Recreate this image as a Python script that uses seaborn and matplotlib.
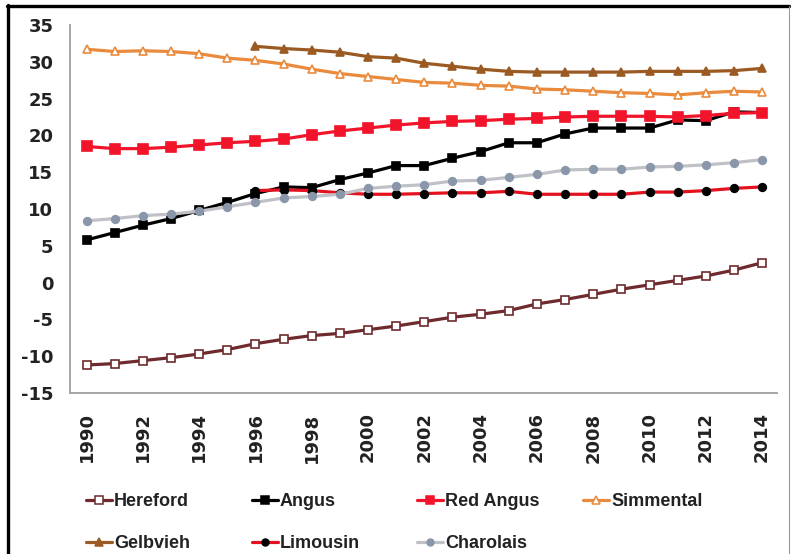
import matplotlib
matplotlib.use("Agg")
import matplotlib.pyplot as plt
from matplotlib.lines import Line2D
from matplotlib.ticker import FixedLocator, NullFormatter
import seaborn as sns
import numpy as np

# ---------------- data ----------------
years = list(range(1990, 2015))
years_late = list(range(1996, 2015))

hereford = [-11.2, -11.0, -10.6, -10.2, -9.7, -9.1, -8.3, -7.7, -7.2, -6.9, -6.4, -5.9,
            -5.3, -4.7, -4.3, -3.8, -2.9, -2.3, -1.6, -0.9, -0.3, 0.3, 0.9, 1.7, 2.7]
angus = [5.8, 6.8, 7.8, 8.7, 9.8, 10.9, 12.1, 13.0, 12.9, 14.0, 14.9, 15.9,
         15.9, 16.9, 17.8, 19.0, 19.0, 20.2, 21.0, 21.0, 21.0, 22.1, 22.0, 23.2, 23.1]
red_angus = [18.5, 18.2, 18.2, 18.4, 18.7, 19.0, 19.2, 19.5, 20.1, 20.6, 21.0, 21.4,
             21.7, 21.9, 22.0, 22.2, 22.3, 22.5, 22.6, 22.6, 22.6, 22.5, 22.7, 23.0, 23.1]
simmental = [31.7, 31.4, 31.5, 31.4, 31.1, 30.5, 30.2, 29.7, 29.0, 28.4, 28.0, 27.6,
             27.2, 27.1, 26.8, 26.7, 26.3, 26.2, 26.0, 25.8, 25.7, 25.5, 25.8, 26.0, 25.9]
gelbvieh = [32.1, 31.8, 31.6, 31.3, 30.7, 30.5, 29.8, 29.4, 29.0, 28.7, 28.6, 28.6,
            28.6, 28.6, 28.7, 28.7, 28.7, 28.8, 29.1]
limousin = [12.5, 12.6, 12.5, 12.2, 12.0, 12.0, 12.1, 12.2, 12.2, 12.4, 12.0, 12.0,
            12.0, 12.0, 12.3, 12.3, 12.5, 12.8, 13.0]
charolais = [8.4, 8.7, 9.1, 9.3, 9.7, 10.3, 10.9, 11.5, 11.7, 12.0, 12.8, 13.1,
             13.3, 13.8, 13.9, 14.3, 14.7, 15.3, 15.4, 15.4, 15.7, 15.8, 16.0, 16.3, 16.7]

y_ticks = [-15, -10, -5, 0, 5, 10, 15, 20, 25, 30, 35]
x_label_years = list(range(1990, 2015, 2))

series = [
    # label, x, y, line colour, marker, marker face, marker edge, marker size
    ("Hereford", years, hereford, "#6E2A2C", "s", "white", "#6E2A2C", 6.0),
    ("Angus", years, angus, "#000000", "s", "#000000", "#000000", 6.0),
    ("Red Angus", years, red_angus, "#F2142A", "s", "#F2142A", "#F2142A", 6.5),
    ("Simmental", years, simmental, "#EA8A3C", "^", "white", "#EA8A3C", 6.0),
    ("Gelbvieh", years_late, gelbvieh, "#9A5A22", "^", "#9A5A22", "#9A5A22", 6.0),
    ("Limousin", years_late, limousin, "#E3121E", "o", "#000000", "#000000", 5.5),
    ("Charolais", years, charolais, "#BFC1C7", "o", "#8A96AA", "#8A96AA", 5.5),
]

# ---------------- figure ----------------
sns.set_style("white")
plt.rcParams["font.family"] = ["DejaVu Sans"]

W, H = 791, 554
fig = plt.figure(figsize=(W / 100, H / 100), dpi=100)
ax = fig.add_axes([70 / W, 1 - 393 / H, (777 - 70) / W, (393 - 25) / H])

for lab, xs, ys, col, mk, mfc, mec, ms in series:
    sns.lineplot(x=xs, y=ys, ax=ax, color=col, linewidth=2.3, marker=mk,
                 markersize=ms, markerfacecolor=mfc, markeredgecolor=mec,
                 markeredgewidth=1.2, legend=False, sort=False)

ax.set_xlim(1989.41, 2014.53)
ax.set_ylim(-15, 35)

axis_grey = "#A6A6A6"
for s in ["top", "right"]:
    ax.spines[s].set_visible(False)
for s in ["left", "bottom"]:
    ax.spines[s].set_color(axis_grey)
    ax.spines[s].set_linewidth(1.4)

ax.set_yticks(y_ticks)
ax.set_yticklabels([str(v) for v in y_ticks])
ax.tick_params(axis="y", which="major", direction="out", length=4, width=1.2,
               color=axis_grey, pad=8, labelsize=13, labelcolor="#222222")

ax.set_xticks(x_label_years)
ax.set_xticklabels([str(v) for v in x_label_years], rotation=90)
ax.xaxis.set_minor_locator(FixedLocator(np.arange(1989.5, 2015.0, 1.0)))
ax.xaxis.set_minor_formatter(NullFormatter())
ax.tick_params(axis="x", which="major", length=0, pad=14, labelsize=13,
               labelcolor="#222222")
ax.tick_params(axis="x", which="minor", direction="out", length=5, width=1.2,
               color=axis_grey)
for t in ax.get_xticklabels() + ax.get_yticklabels():
    t.set_fontweight("bold")
ax.set_xlabel("")
ax.set_ylabel("")

# ---------------- legend (Excel-style equal columns) ----------------
lines = ax.get_lines()
col_x = [86, 252, 417, 583]
row_y = [502, 544]
positions = [(0, 0), (1, 0), (2, 0), (3, 0), (0, 1), (1, 1), (2, 1)]
for line, (lab, *_), (c, r) in zip(lines, series, positions):
    h = Line2D([], [], color=line.get_color(), linewidth=2.3,
               marker=line.get_marker(), markersize=line.get_markersize() * 0.9,
               markerfacecolor=line.get_markerfacecolor(),
               markeredgecolor=line.get_markeredgecolor(), markeredgewidth=1.1)
    leg = fig.legend([h], [lab], loc="center left",
                     bbox_to_anchor=(col_x[c] / W, 1 - row_y[r] / H),
                     frameon=False, borderpad=0, borderaxespad=0,
                     handlelength=1.45, handletextpad=0.1,
                     prop={"family": "Liberation Sans", "weight": "bold", "size": 13})
    for t in leg.get_texts():
        t.set_color("#222222")

# ---------------- outer frame ----------------
fig.add_artist(Line2D([8 / W, 8 / W], [0, 1 - 5 / H], transform=fig.transFigure,
                      color="black", linewidth=2.4))
fig.add_artist(Line2D([7 / W, 789 / W], [1 - 6 / H, 1 - 6 / H], transform=fig.transFigure,
                      color="black", linewidth=2.4))
fig.add_artist(Line2D([789 / W, 789 / W], [0, 1 - 6 / H], transform=fig.transFigure,
                      color="#9A9A9A", linewidth=0.8))

fig.savefig("out.png", dpi=100, facecolor="white")
